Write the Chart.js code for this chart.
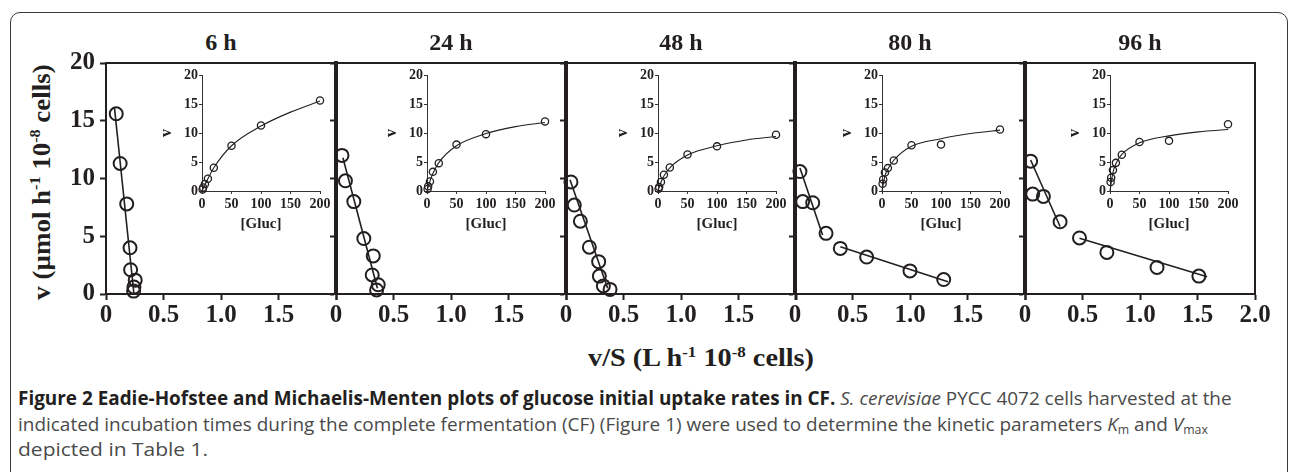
<!DOCTYPE html>
<html>
<head>
<meta charset="utf-8">
<script src="https://cdn.jsdelivr.net/npm/chart.js@4.4.1/dist/chart.umd.min.js"></script>
<style>
  body { margin: 0; width: 1290px; height: 472px; overflow: hidden; position: relative; background: #fff;
         font-family: 'Liberation Serif', 'Times New Roman', serif; color: #231f20; }
  .abs { position: absolute; }
  #frame { left: 10px; top: 12px; width: 1278px; height: 500px; border: 1.5px solid #3a3a3a; border-radius: 10px; box-sizing: border-box; }
  .ptitle { top: 28px; width: 230px; text-align: center; font-weight: bold; font-size: 24px; line-height: 28px; }
  .axtitle { font-weight: bold; font-size: 26px; line-height: 30px; white-space: nowrap; }
  .axtitle sup { font-size: 0.6em; vertical-align: 0.6em; line-height: 0; }
  .cap { left: 18px; font-family: 'Open Sans', 'Noto Sans', sans-serif; font-size: 19px; line-height: 24px;
         white-space: nowrap; color: #4a4a4a; transform-origin: 0 50%; }
  .cap b { color: #231f20; }
  .cap i { color: #4a4a4a; }
  .cap sub { font-size: 0.65em; vertical-align: -0.25em; line-height: 0; color: #4a4a4a; }
  canvas { position: absolute; }
</style>
</head>
<body>
<div id="frame" class="abs"></div>

<div id="ytitle" class="abs axtitle">v (µmol h<sup>-1</sup> 10<sup>-8</sup> cells)</div>
<div id="xtitle" class="abs axtitle">v/S (L h<sup>-1</sup> 10<sup>-8</sup> cells)</div>

<div id="cap1" class="abs cap" style="top:386px"><b>Figure 2 Eadie-Hofstee and Michaelis-Menten plots of glucose initial uptake rates in CF.</b> <i>S. cerevisiae</i> PYCC 4072 cells harvested at the</div>
<div id="cap2" class="abs cap" style="top:412px">indicated incubation times during the complete fermentation (CF) (Figure 1) were used to determine the kinetic parameters <i>K</i><sub>m</sub> and <i>V</i><sub>max</sub></div>
<div id="cap3" class="abs cap" style="top:437px">depicted in Table 1.</div>

<script>
// === DATA ===
const panelTitles = ['6 h', '24 h', '48 h', '80 h', '96 h'];
const gluc = [200, 100, 50, 20, 10, 5, 2, 1];          // [Gluc] of each assay

const xTicks = [0, 0.5, 1.0, 1.5, 2.0];
const xTickLabels = ['0', '0.5', '1.0', '1.5', '2.0'];
const yTicks = [0, 5, 10, 15, 20];
const insetXTicks = [0, 50, 100, 150, 200];
const insetYTicks = [0, 5, 10, 15, 20];

// v/S  and  v  (same order as gluc)
const vs6h  = [0.089, 0.123, 0.180, 0.209, 0.214, 0.254, 0.243, 0.240];
const v6h   = [15.6, 11.3, 7.8, 4.0, 2.1, 1.2, 0.6, 0.25];
const vs24h = [0.052, 0.082, 0.155, 0.242, 0.324, 0.315, 0.367, 0.353];
const v24h  = [12.0, 9.8, 8.0, 4.8, 3.3, 1.65, 0.8, 0.35];
const vs48h = [0.043, 0.072, 0.125, 0.203, 0.284, 0.290, 0.325, 0.383];
const v48h  = [9.7, 7.7, 6.3, 4.05, 2.8, 1.55, 0.7, 0.4];
const vs80h = [0.043, 0.067, 0.154, 0.270, 0.394, 0.623, 1.000, 1.293];
const v80h  = [10.6, 8.0, 7.9, 5.25, 3.95, 3.2, 2.0, 1.25];
const vs96h = [0.049, 0.067, 0.160, 0.305, 0.474, 0.712, 1.148, 1.512];
const v96h  = [11.5, 8.65, 8.45, 6.25, 4.85, 3.6, 2.3, 1.55];

// Eadie-Hofstee fit lines, end points [v/S, v]
const fit6h   = [[0.074, 16.1], [0.243, 0.0]];
const fit24h  = [[0.060, 11.8], [0.360, 0.5]];
const fit48h  = [[0.035, 9.9], [0.362, 0.5]];
const fit80hA = [[0.043, 10.9], [0.240, 5.1]];
const fit80hB = [[0.394, 4.1], [1.330, 1.07]];
const fit96hA = [[0.049, 11.6], [0.305, 5.84]];
const fit96hB = [[0.474, 4.83], [1.584, 1.5]];

// Michaelis-Menten curves in the insets [Gluc, v]
const mm6h  = [[0, 0], [5, 1.05], [10, 2.1], [20, 4.0], [50, 7.8], [100, 11.2], [150, 13.6], [200, 15.5]];
const mm24h = [[0, 0], [5, 1.7], [10, 3.0], [20, 4.9], [50, 7.8], [100, 9.9], [150, 11.1], [200, 11.8]];
const mm48h = [[0, 0], [5, 1.5], [10, 2.6], [20, 4.0], [50, 6.2], [100, 7.8], [150, 8.8], [200, 9.4]];
const mm80h = [[0, 0], [5, 2.6], [10, 3.8], [20, 5.3], [50, 7.7], [100, 9.0], [150, 9.9], [200, 10.5]];
const mm96h = [[0, 0], [5, 3.2], [10, 4.7], [20, 6.3], [50, 8.3], [100, 9.5], [150, 10.2], [200, 10.6]];

const ehX = [vs6h, vs24h, vs48h, vs80h, vs96h];
const ehY = [v6h, v24h, v48h, v80h, v96h];
const ehFits = [[fit6h], [fit24h], [fit48h], [fit80hA, fit80hB], [fit96hA, fit96hB]];
const mmCurves = [mm6h, mm24h, mm48h, mm80h, mm96h];

// === LAYOUT ===
const ink = '#231f20';
const serif = "'Liberation Serif', 'Times New Roman', serif";
const panelLeft = [106, 336, 566, 795, 1025];
const panelW = 230, plotTop = 63, plotH = 231;
const yAxisW = 80, padR = 25, padT = 25, xAxisH = 45;
const insetLeft = [202, 427, 658, 882, 1110];
const insetW = 118, insetTop = 75, insetH = 116;
const inYW = 50, inPadR = 20, inPadT = 10, inXH = 46;

const toPts = (xs, ys) => xs.map((x, i) => ({x: x, y: ys[i]}));
const pairs = arr => arr.map(p => ({x: p[0], y: p[1]}));

// top / right frame of the plot area
const frameLines = {
  id: 'frameLines',
  afterDatasetsDraw(chart, args, opts) {
    if (!opts.top && !opts.right) return;
    const {ctx, chartArea: a} = chart;
    ctx.save();
    ctx.strokeStyle = ink;
    ctx.lineWidth = 2;
    ctx.beginPath();
    if (opts.top) { ctx.moveTo(a.left, a.top); ctx.lineTo(a.right + 1, a.top); }
    if (opts.right) { ctx.moveTo(a.right, a.top); ctx.lineTo(a.right, a.bottom); }
    ctx.stroke();
    ctx.restore();
  }
};

function addCanvas(left, top, w, h) {
  const c = document.createElement('canvas');
  c.width = w; c.height = h;
  c.style.left = left + 'px'; c.style.top = top + 'px';
  c.style.width = w + 'px'; c.style.height = h + 'px';
  document.body.appendChild(c);
  return c;
}

// === MAIN EADIE-HOFSTEE PANELS ===
panelTitles.forEach((t, i) => {
  const d = document.createElement('div');
  d.className = 'abs ptitle';
  d.style.left = panelLeft[i] + 'px';
  d.textContent = t;
  document.body.appendChild(d);

  const cv = addCanvas(panelLeft[i] - yAxisW, plotTop - padT, yAxisW + panelW + padR, padT + plotH + xAxisH);
  const last = i === panelTitles.length - 1;
  const datasets = [{
    data: toPts(ehX[i], ehY[i]),
    pointRadius: 6.5, pointBorderWidth: 2, borderColor: ink,
    pointBackgroundColor: 'rgba(0,0,0,0)', backgroundColor: 'rgba(0,0,0,0)',
    showLine: false, clip: false
  }];
  ehFits[i].forEach(f => datasets.push({
    data: pairs(f), showLine: true, pointRadius: 0, borderColor: ink, borderWidth: 1.6, clip: false
  }));

  new Chart(cv, {
    type: 'scatter',
    data: {datasets},
    options: {
      responsive: false, animation: false, events: [],
      layout: {padding: {left: 0, right: padR, top: padT, bottom: 0}},
      plugins: {legend: {display: false}, tooltip: {enabled: false}, frameLines: {top: true, right: last}},
      scales: {
        x: {
          min: 0, max: 2,
          afterBuildTicks: s => { s.ticks = xTicks.map(v => ({value: v})); },
          afterFit: s => { s.height = xAxisH; },
          grid: {drawOnChartArea: false, tickLength: 6, tickWidth: 2, tickColor: ink},
          border: {width: 2, color: ink},
          ticks: {
            color: ink, padding: 1, maxRotation: 0, autoSkip: false,
            font: {family: serif, size: 25, weight: 'bold'},
            callback: (v, k) => (k === xTicks.length - 1 && !last) ? '' : xTickLabels[k]
          }
        },
        y: {
          min: 0, max: 20,
          afterBuildTicks: s => { s.ticks = yTicks.map(v => ({value: v})); },
          afterFit: s => { s.width = yAxisW; },
          grid: {drawOnChartArea: false, tickLength: 6, tickWidth: 2, tickColor: ink},
          border: {width: i === 0 ? 2 : 4, color: ink},
          ticks: {
            color: ink, padding: 5,
            font: {family: serif, size: 25, weight: 'bold'},
            callback: v => i === 0 ? String(v) : ''
          }
        }
      }
    },
    plugins: [frameLines]
  });
});

// === MICHAELIS-MENTEN INSETS ===
mmCurves.forEach((curve, i) => {
  const cv = addCanvas(insetLeft[i] - inYW, insetTop - inPadT, inYW + insetW + inPadR, inPadT + insetH + inXH);
  const inkIn = '#333';
  new Chart(cv, {
    type: 'scatter',
    data: {datasets: [
      {
        data: toPts(gluc, ehY[i]),
        pointRadius: 3.6, pointBorderWidth: 1.3, borderColor: ink,
        pointBackgroundColor: 'rgba(0,0,0,0)', backgroundColor: 'rgba(0,0,0,0)',
        showLine: false, clip: false
      },
      {
        data: pairs(curve), showLine: true, pointRadius: 0, borderColor: ink, borderWidth: 1.1,
        cubicInterpolationMode: 'monotone', clip: false
      }
    ]},
    options: {
      responsive: false, animation: false, events: [],
      layout: {padding: {left: 0, right: inPadR, top: inPadT, bottom: 0}},
      plugins: {legend: {display: false}, tooltip: {enabled: false}},
      scales: {
        x: {
          min: 0, max: 200,
          afterBuildTicks: s => { s.ticks = insetXTicks.map(v => ({value: v})); },
          afterFit: s => { s.height = inXH; },
          grid: {drawOnChartArea: false, tickLength: 3, tickWidth: 1, tickColor: inkIn},
          border: {width: 1, color: inkIn},
          ticks: {color: ink, padding: 2, maxRotation: 0, autoSkip: false,
                  font: {family: serif, size: 14, weight: 'bold'}},
          title: {display: true, text: '[Gluc]', color: ink,
                  font: {family: serif, size: 15, weight: 'bold'}, padding: {top: 0, bottom: 4}}
        },
        y: {
          min: 0, max: 20,
          afterBuildTicks: s => { s.ticks = insetYTicks.map(v => ({value: v})); },
          afterFit: s => { s.width = inYW; },
          grid: {drawOnChartArea: false, tickLength: 3, tickWidth: 1, tickColor: inkIn},
          border: {width: 1, color: inkIn},
          ticks: {color: ink, padding: 1, font: {family: serif, size: 14, weight: 'bold'}},
          title: {display: true, text: 'v', color: ink,
                  font: {family: serif, size: 16, weight: 'bold'}, padding: {top: 5, bottom: 0}}
        }
      }
    }
  });
});

// === TEXT FITTING ===
function squeeze(el, target, pre) {
  const k = target / el.offsetWidth;
  el.style.transform = (pre || '') + ' scaleX(' + k.toFixed(4) + ')';
}
const yt = document.getElementById('ytitle');
yt.style.left = (41 - yt.offsetWidth / 2) + 'px';
yt.style.top = (182 - yt.offsetHeight / 2) + 'px';
squeeze(yt, 235, 'rotate(-90deg)');

const xt = document.getElementById('xtitle');
xt.style.left = (701 - xt.offsetWidth / 2) + 'px';
xt.style.top = (358 - xt.offsetHeight / 2) + 'px';
squeeze(xt, 226);

squeeze(document.getElementById('cap1'), 1214);
squeeze(document.getElementById('cap2'), 1190);
squeeze(document.getElementById('cap3'), 190);
</script>
</body>
</html>
